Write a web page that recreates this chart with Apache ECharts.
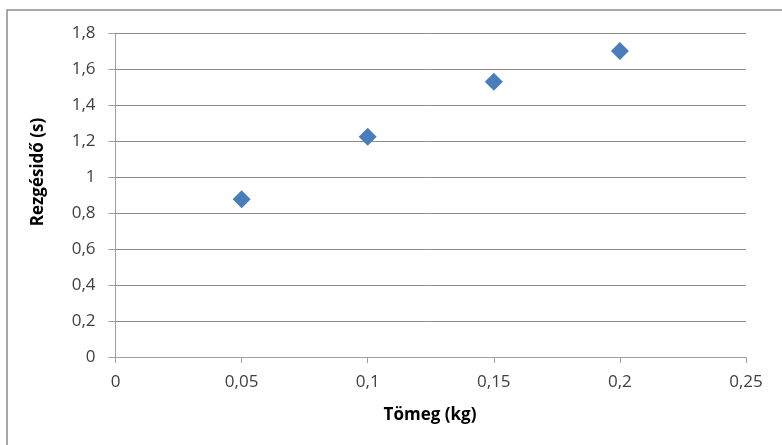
<!DOCTYPE html>
<html>
<head>
<meta charset="utf-8">
<script src="https://cdn.jsdelivr.net/npm/echarts@6/dist/echarts.min.js"></script>
<style>
  html, body { margin: 0; padding: 0; background: #fff; }
  #chart { width: 782px; height: 445px; }
</style>
</head>
<body>
<div id="chart"></div>
<script>
// Mass (kg) against oscillation period (s)
const massKg = [0.05, 0.1, 0.15, 0.2];
const periodS = [0.876, 1.224, 1.529, 1.70];
const xTitle = 'Tömeg (kg)';
const yTitle = 'Rezgésidő (s)';

const fmt = v => String(+v.toFixed(2)).replace('.', ',');
const labelFont = '"Open Sans", "Noto Sans", sans-serif';

const chart = echarts.init(document.getElementById('chart'), null, { renderer: 'canvas' });
chart.setOption({
  animation: false,
  backgroundColor: '#ffffff',
  grid: { left: 115.5, right: 36, top: 33, bottom: 88, containLabel: false },
  graphic: [
    {
      type: 'rect',
      shape: { x: 7, y: 10, width: 900, height: 600 },
      style: { fill: 'none', stroke: '#8c8c8c', lineWidth: 1.5 },
      silent: true
    },
    {
      type: 'text',
      x: 38, y: 172,
      rotation: Math.PI / 2,
      style: {
        text: yTitle, fill: '#000',
        fontSize: 17, fontWeight: 'bold', fontFamily: labelFont,
        align: 'center', verticalAlign: 'middle'
      }
    },
    {
      type: 'text',
      x: 430, y: 415,
      style: {
        text: xTitle, fill: '#000',
        fontSize: 17, fontWeight: 'bold', fontFamily: labelFont,
        align: 'center', verticalAlign: 'middle'
      }
    }
  ],
  xAxis: {
    type: 'value',
    min: 0, max: 0.25, interval: 0.05,
    axisLine: { show: true, lineStyle: { color: '#a0a0a0', width: 1 } },
    axisTick: { show: true, length: 6, lineStyle: { color: '#a0a0a0' } },
    axisLabel: { color: '#404040', fontSize: 17, fontFamily: labelFont, margin: 17, formatter: fmt },
    splitLine: { show: false }
  },
  yAxis: {
    type: 'value',
    min: 0, max: 1.8, interval: 0.2,
    axisLine: { show: true, lineStyle: { color: '#a0a0a0', width: 1 } },
    axisTick: { show: true, length: 7, lineStyle: { color: '#a0a0a0' } },
    axisLabel: { color: '#404040', fontSize: 17, fontFamily: labelFont, margin: 20, formatter: fmt },
    splitLine: { show: true, lineStyle: { color: '#8c8c8c', width: 1 } }
  },
  series: [{
    type: 'scatter',
    data: massKg.map((m, i) => [m, periodS[i]]),
    symbol: 'diamond',
    symbolSize: [18, 18],
    itemStyle: { color: '#4a7ebb', opacity: 1 }
  }]
});
</script>
</body>
</html>
